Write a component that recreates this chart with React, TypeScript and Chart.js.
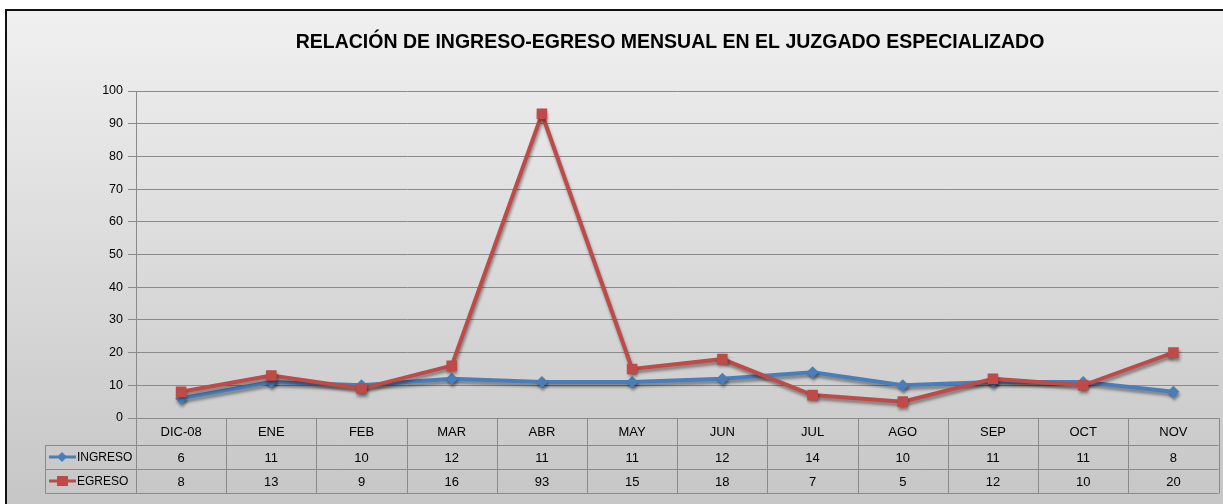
import React, { useEffect, useRef } from "react";
import { Chart, registerables } from "chart.js";

Chart.register(...registerables);

const TITLE = "RELACIÓN DE INGRESO-EGRESO MENSUAL EN EL JUZGADO ESPECIALIZADO";
const categories = ["DIC-08", "ENE", "FEB", "MAR", "ABR", "MAY", "JUN", "JUL", "AGO", "SEP", "OCT", "NOV"];
const ingreso = [6, 11, 10, 12, 11, 11, 12, 14, 10, 11, 11, 8];
const egreso = [8, 13, 9, 16, 93, 15, 18, 7, 5, 12, 10, 20];
const yTicks = [0, 10, 20, 30, 40, 50, 60, 70, 80, 90, 100];

const BLUE = "#4a7ebb";
const RED = "#be4b48";
const FONT = "'Liberation Sans', Arial, sans-serif";

export default function App() {
  const ref = useRef<HTMLCanvasElement | null>(null);

  useEffect(() => {
    document.body.style.margin = "0";
    const canvas = ref.current;
    if (!canvas) return;

    const bgPlugin = {
      id: "bg",
      beforeDraw(chart: any) {
        const ctx = chart.ctx;
        const w = chart.width;
        const h = chart.height;
        ctx.save();
        ctx.fillStyle = "#ffffff";
        ctx.fillRect(0, 0, w, h);
        const g = ctx.createLinearGradient(0, 10, 0, h);
        g.addColorStop(0, "#f0f0f0");
        g.addColorStop(1, "#c6c6c6");
        ctx.fillStyle = g;
        ctx.fillRect(6, 10, w - 6, h - 10);
        ctx.strokeStyle = "#111";
        ctx.lineWidth = 2;
        ctx.beginPath();
        ctx.moveTo(6, h);
        ctx.lineTo(6, 10);
        ctx.lineTo(w, 10);
        ctx.stroke();
        ctx.fillStyle = "#000";
        ctx.font = `bold 19.5px ${FONT}`;
        ctx.textAlign = "center";
        ctx.textBaseline = "middle";
        ctx.fillText(TITLE, 670, 43);
        ctx.restore();
      },
    };

    const shadowPlugin = {
      id: "shadow",
      beforeDatasetsDraw(chart: any) {
        const ctx = chart.ctx;
        ctx.save();
        ctx.shadowColor = "rgba(0,0,0,0.4)";
        ctx.shadowBlur = 3;
        ctx.shadowOffsetX = 1;
        ctx.shadowOffsetY = 3;
      },
      afterDatasetsDraw(chart: any) {
        chart.ctx.restore();
      },
    };

    const tablePlugin = {
      id: "table",
      afterDraw(chart: any) {
        const ctx = chart.ctx;
        const xs = chart.scales.x;
        const area = chart.chartArea;
        const left = area.left;
        const right = area.right;
        const y0 = area.bottom;
        const y1 = y0 + 27;
        const y2 = y1 + 24;
        const y3 = y2 + 24;
        const legL = 45.5;
        const n = categories.length;
        const colW = (right - left) / n;
        ctx.save();
        ctx.strokeStyle = "#8a8a8a";
        ctx.lineWidth = 1;
        ctx.beginPath();
        ctx.moveTo(left, y0 + 0.5);
        ctx.lineTo(right, y0 + 0.5);
        [y1, y2, y3].forEach((y) => {
          ctx.moveTo(legL, y + 0.5);
          ctx.lineTo(right, y + 0.5);
        });
        for (let i = 0; i <= n; i++) {
          const x = Math.round(left + i * colW) + 0.5;
          ctx.moveTo(x, y0);
          ctx.lineTo(x, y3 + 0.5);
        }
        ctx.moveTo(legL, y1);
        ctx.lineTo(legL, y3 + 0.5);
        ctx.stroke();

        ctx.fillStyle = "#000";
        ctx.font = `13px ${FONT}`;
        ctx.textAlign = "center";
        ctx.textBaseline = "middle";
        categories.forEach((c, i) => {
          const cx = xs.getPixelForValue(i);
          ctx.fillText(c, cx, (y0 + y1) / 2 + 1);
          ctx.fillText(String(ingreso[i]), cx, (y1 + y2) / 2 + 1);
          ctx.fillText(String(egreso[i]), cx, (y2 + y3) / 2 + 1);
        });

        const keys = [
          { label: "INGRESO", color: BLUE, y: (y1 + y2) / 2, shape: "diamond" },
          { label: "EGRESO", color: RED, y: (y2 + y3) / 2, shape: "square" },
        ];
        keys.forEach((k) => {
          ctx.strokeStyle = k.color;
          ctx.lineWidth = 3;
          ctx.beginPath();
          ctx.moveTo(49, k.y);
          ctx.lineTo(76, k.y);
          ctx.stroke();
          ctx.fillStyle = k.color;
          ctx.beginPath();
          if (k.shape === "diamond") {
            ctx.moveTo(62, k.y - 5);
            ctx.lineTo(67, k.y);
            ctx.lineTo(62, k.y + 5);
            ctx.lineTo(57, k.y);
            ctx.closePath();
          } else {
            ctx.rect(57, k.y - 5, 11, 10);
          }
          ctx.fill();
          ctx.fillStyle = "#000";
          ctx.font = `12px ${FONT}`;
          ctx.textAlign = "left";
          ctx.fillText(k.label, 77, k.y + 1);
        });
        ctx.restore();
      },
    };

    const chart = new Chart(canvas, {
      type: "line",
      data: {
        labels: categories,
        datasets: [
          {
            label: "INGRESO",
            data: ingreso,
            borderColor: BLUE,
            backgroundColor: BLUE,
            borderWidth: 4,
            pointStyle: "rectRot",
            pointRadius: 6,
            pointBorderWidth: 0,
            tension: 0,
            order: 2,
          },
          {
            label: "EGRESO",
            data: egreso,
            borderColor: RED,
            backgroundColor: RED,
            borderWidth: 4,
            pointStyle: "rect",
            pointRadius: 7.5,
            pointBorderWidth: 0,
            tension: 0,
            order: 1,
          },
        ],
      },
      options: {
        responsive: false,
        animation: false,
        layout: { padding: { top: 91, bottom: 86, right: 0, left: 0 } },
        plugins: {
          legend: { display: false },
          title: { display: false },
          tooltip: { enabled: false },
        },
        scales: {
          x: {
            type: "category",
            display: false,
            offset: true,
          },
          y: {
            min: 0,
            max: 100,
            afterBuildTicks(scale: any) {
              scale.ticks = yTicks.map((v) => ({ value: v }));
            },
            afterFit(scale: any) {
              scale.width = 136;
            },
            ticks: {
              color: "#000",
              font: { family: FONT, size: 12.5 },
              padding: 5,
            },
            grid: {
              color: "#8a8a8a",
              lineWidth: 1,
              tickLength: 8,
              drawTicks: true,
            },
            border: { color: "#8a8a8a", width: 1 },
          },
        },
      },
      plugins: [bgPlugin, shadowPlugin, tablePlugin],
    });

    return () => chart.destroy();
  }, []);

  return (
    <div style={{ width: 1223, height: 504, overflow: "hidden" }}>
      <canvas ref={ref} width={1226} height={504} style={{ display: "block" }} />
    </div>
  );
}
